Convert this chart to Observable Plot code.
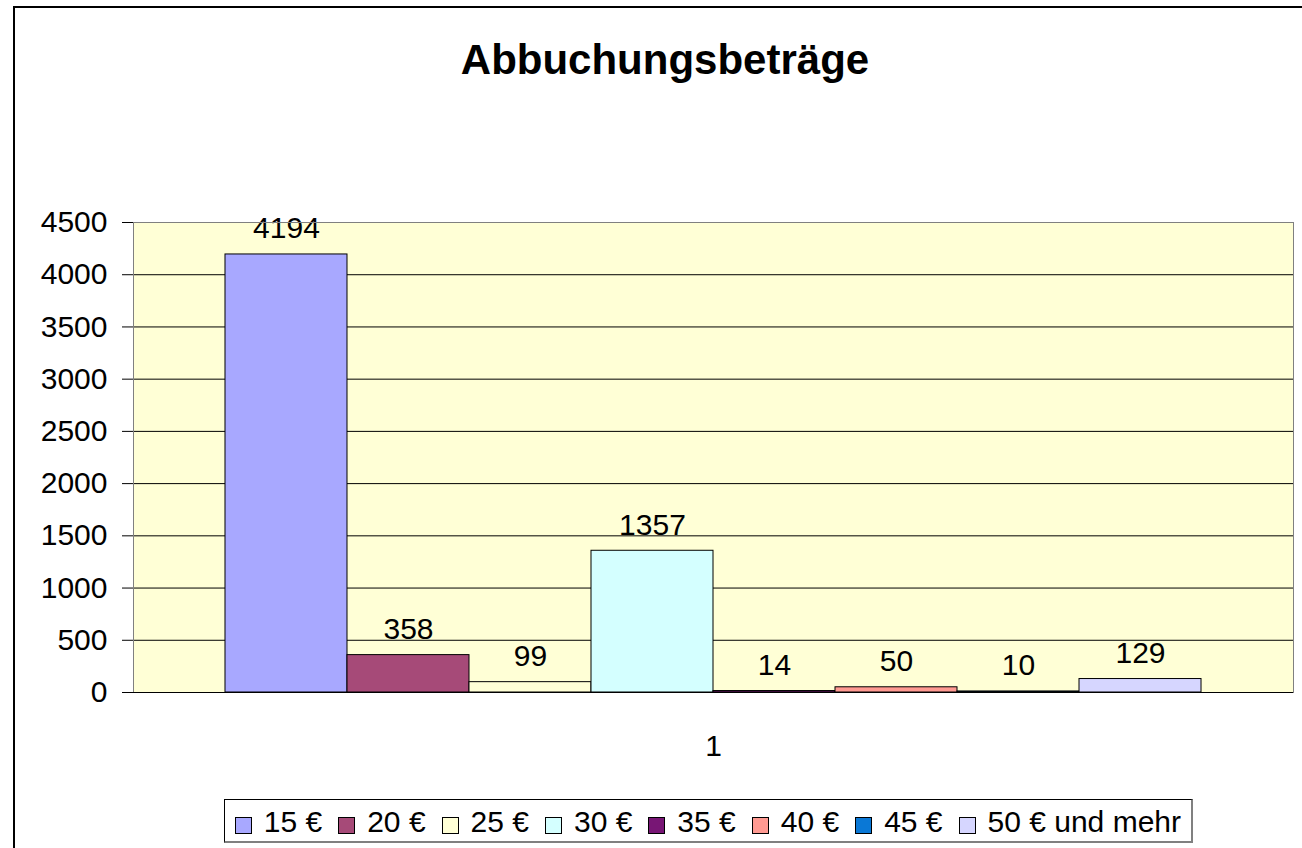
<!DOCTYPE html>
<html>
<head>
<meta charset="utf-8">
<script src="https://cdn.jsdelivr.net/npm/d3@7"></script>
<script src="https://cdn.jsdelivr.net/npm/@observablehq/plot@0.6"></script>
<style>
  html, body { margin: 0; padding: 0; background: #fff; }
  body { width: 1302px; height: 848px; overflow: hidden; position: relative;
         font-family: "Liberation Sans", Arial, sans-serif; }
  #outer { position: absolute; left: 13px; top: 6px; width: 1400px; height: 1000px;
           border-left: 2px solid #000; border-top: 2px solid #000; box-sizing: border-box; }
  #title { position: absolute; left: 0; width: 1330px; top: 39px; text-align: center;
           font-size: 42px; line-height: 42px; font-weight: bold; color: #000; }
  #chart { position: absolute; left: 0; top: 0; }
  #legend { position: absolute; right: 109px; bottom: 5px; display: flex; align-items: center;
            border: 1px solid #000; border-right: 2px solid #808080; border-bottom: 2px solid #808080;
            padding: 5px 10px 2px 10px; background: #fff; font-size: 30px; line-height: 34px; color: #000; }
  .item { display: flex; align-items: center; margin-right: 16px; white-space: nowrap; }
  .item:last-child { margin-right: 0; }
  .sw { width: 15px; height: 15px; border: 1px solid #000; margin-right: 12px; margin-top: 6px; }
</style>
</head>
<body>
<div id="outer"></div>
<div id="chart"></div>
<div id="title"></div>
<div id="legend"></div>
<script>
const title = "Abbuchungsbeträge";
const categories = ["1"];
const series = ["15 €", "20 €", "25 €", "30 €", "35 €", "40 €", "45 €", "50 € und mehr"];
const values = [4194, 358, 99, 1357, 14, 50, 10, 129];
const colors = ["#A8A8FF", "#A64A78", "#FFFFD6", "#D4FFFF", "#781675", "#FF9A92", "#0A78D6", "#D6D6FF"];
const yTicks = [0, 500, 1000, 1500, 2000, 2500, 3000, 3500, 4000, 4500];

const data = series.map((s, i) => ({cat: categories[0], series: s, value: values[i]}));

document.getElementById("title").textContent = title;

const chart = Plot.plot({
  width: 1302,
  height: 848,
  marginLeft: 133,
  marginRight: 9,
  marginTop: 222,
  marginBottom: 156,
  style: {fontFamily: "'Liberation Sans', Arial, sans-serif", fontSize: "30px", color: "#000", background: "transparent", overflow: "visible"},
  fx: {domain: categories, padding: 0, label: null, axis: "bottom", tickSize: 0, tickPadding: 42},
  x: {domain: series, paddingInner: 0, paddingOuter: 0.754, axis: null, round: false},
  y: {domain: [0, 4500], ticks: yTicks, tickSize: 11, tickPadding: 15, label: null, tickFormat: d => String(d)},
  color: {domain: series, range: colors},
  marks: [
    Plot.frame({fill: "#FFFFD6", stroke: null}),
    Plot.ruleY(yTicks, {stroke: "#000", strokeWidth: 1}),
    Plot.barY(data, {fx: "cat", x: "series", y: "value", fill: "series", stroke: "#000", strokeWidth: 1}),
    Plot.text(data, {fx: "cat", x: "series", y: "value", text: d => String(d.value), lineAnchor: "bottom", dy: -16, fontSize: 30, fill: "#000"}),
    Plot.frame({stroke: "#808080"}),
    Plot.ruleY([0], {stroke: "#000"})
  ]
});
document.getElementById("chart").appendChild(chart);

const legend = document.getElementById("legend");
series.forEach((s, i) => {
  const item = document.createElement("div");
  item.className = "item";
  const sw = document.createElement("div");
  sw.className = "sw";
  sw.style.background = colors[i];
  const t = document.createElement("span");
  t.textContent = s;
  item.appendChild(sw);
  item.appendChild(t);
  legend.appendChild(item);
});
</script>
</body>
</html>
